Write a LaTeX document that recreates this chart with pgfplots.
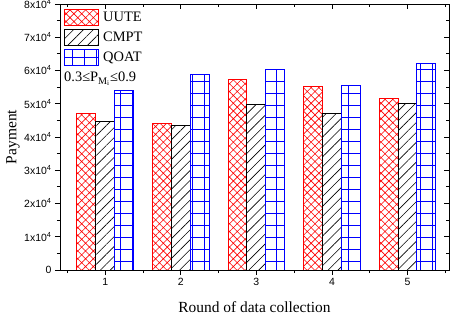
\documentclass[border=0pt]{standalone}
\usepackage{fontspec}
\setmainfont{Liberation Serif}
\setsansfont{Liberation Sans}
\usepackage{pgfplots}
\pgfplotsset{compat=1.18}
\usetikzlibrary{patterns.meta}
\begin{document}
\begin{tikzpicture}
\useasboundingbox (-60bp,-51bp) rectangle (391bp,270bp);
\begin{axis}[
  at={(0,0)}, anchor=south west,
  scale only axis, width=389bp, height=266bp,
  xmin=0.4, xmax=5.55, ymin=0, ymax=80000,
  xtick={1,2,3,4,5}, xticklabels={1,2,3,4,5},
  minor xtick={0.5,1.5,2.5,3.5,4.5,5.5},
  ytick={0,10000,20000,30000,40000,50000,60000,70000,80000},
  yticklabels={0,1x10\textsuperscript{4},2x10\textsuperscript{4},3x10\textsuperscript{4},4x10\textsuperscript{4},5x10\textsuperscript{4},6x10\textsuperscript{4},7x10\textsuperscript{4},8x10\textsuperscript{4}},
  minor ytick={5000,15000,25000,35000,45000,55000,65000,75000},
  scaled y ticks=false,
  /pgf/number format/assume math mode=true,
  xtick pos=left, ytick pos=left, tick align=outside,
  major tick length=5bp, minor tick length=3bp,
  tick style={black, line width=0.8bp},
  axis line style={line width=1bp},
  tick label style={font=\sffamily\fontsize{10.5}{12}\selectfont},
  xlabel={Round of data collection}, ylabel={Payment},
  every axis y label/.style={at={(axis description cs:-0.121,0.5)}, rotate=90, anchor=center, font=\fontsize{15.5}{18}\selectfont},
  every axis x label/.style={at={(axis description cs:0.5,0)}, anchor=north, yshift=-28bp, font=\fontsize{15.5}{18}\selectfont},
  legend cell align=left,
  legend image code/.code={\draw[#1] (0bp,-7.75bp) rectangle (34bp,7.75bp);},
  legend style={at={(axis description cs:0,1)}, anchor=north west, xshift=4bp, yshift=-5bp,
    draw=none, fill=none, font=\fontsize{14.5}{16}\selectfont, inner sep=0pt,
    row sep=3.5bp, column sep=4bp, nodes={inner sep=0pt}},
]
\addplot[ybar, bar width=0.25, bar shift=-0.25, draw=red, line width=1bp,
  pattern={Hatch[angle=45,distance=5.5bp,line width=0.6bp]}, pattern color=red]
  coordinates {(1,47100) (2,44100) (3,57400) (4,55100) (5,51700)};
\addplot[ybar, bar width=0.25, bar shift=0, draw=black, line width=1bp,
  pattern={Lines[angle=45,distance=7bp,line width=0.6bp]}, pattern color=black]
  coordinates {(1,44600) (2,43600) (3,49800) (4,47200) (5,50200)};
\addplot[ybar, bar width=0.25, bar shift=0.25, draw=blue, line width=1bp,
  pattern={Hatch[angle=0,distance=12bp,line width=0.8bp]}, pattern color=blue]
  coordinates {(1,54100) (2,58700) (3,60400) (4,55600) (5,62100)};
\legend{UUTE,CMPT,QOAT}
\node[anchor=base west, font=\fontsize{14.5}{16}\selectfont, inner sep=0pt] at (axis description cs:0.0103,0.707)
  {0.3≤P\textsubscript{M\textsubscript{i}}≤0.9};
\end{axis}
\begin{axis}[
  at={(0,0)}, anchor=south west,
  scale only axis, width=389bp, height=266bp,
  xmin=0.4, xmax=5.55, ymin=0, ymax=80000,
  xtick={1,2,3,4,5}, minor xtick={0.5,1.5,2.5,3.5,4.5,5.5},
  ytick={0,10000,20000,30000,40000,50000,60000,70000,80000},
  minor ytick={5000,15000,25000,35000,45000,55000,65000,75000},
  xticklabels={}, yticklabels={}, scaled y ticks=false,
  xtick pos=right, ytick pos=right, tick align=inside,
  major tick length=5bp, minor tick length=3bp,
  tick style={black, line width=0.8bp},
  axis line style={line width=1bp},
]
\end{axis}
\end{tikzpicture}
\end{document}
